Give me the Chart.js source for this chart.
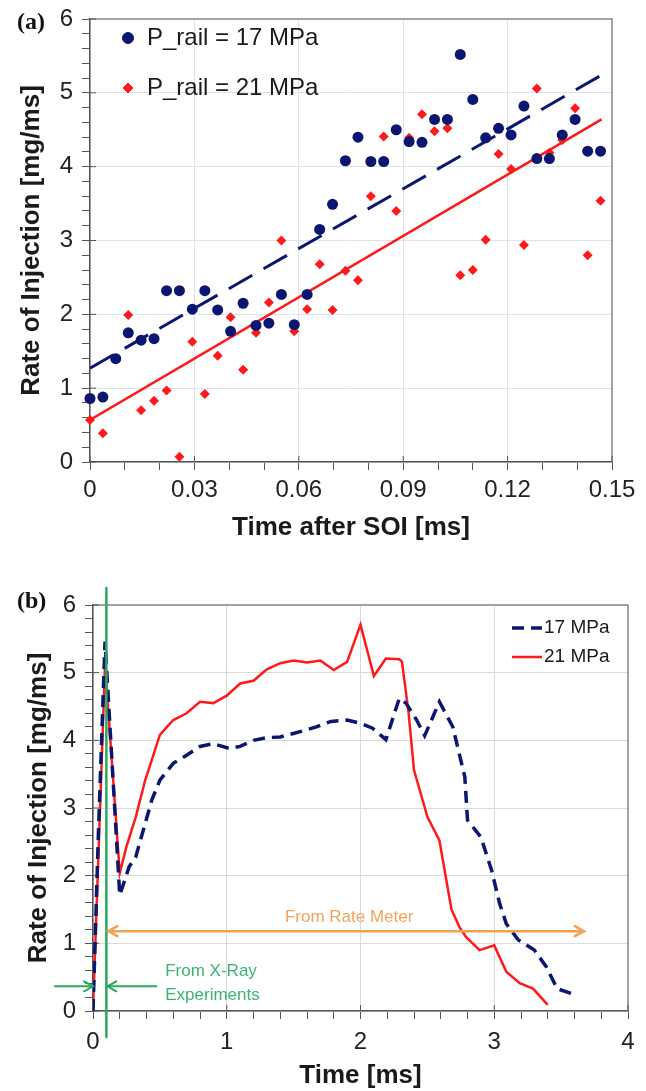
<!DOCTYPE html>
<html>
<head>
<meta charset="utf-8">
<script src="https://cdn.jsdelivr.net/npm/chart.js@4.4.0/dist/chart.umd.min.js"></script>
<style>
  html, body { margin: 0; padding: 0; background: #fff; }
  body { width: 646px; height: 1091px; position: relative; overflow: hidden; }
  .panel { position: absolute; left: 0; width: 646px; }
  #wrapA { top: 0; height: 550px; }
  #wrapB { top: 560px; height: 531px; }
</style>
</head>
<body>
<div class="panel" id="wrapA"><canvas id="chartA"></canvas></div>
<div class="panel" id="wrapB"><canvas id="chartB"></canvas></div>
<script>
// ---- (a) scatter data: rate of injection vs time after SOI ----
const soi17 = [0, 0.0037, 0.0074, 0.011, 0.0147, 0.0184, 0.022, 0.0257, 0.0294, 0.033, 0.0367, 0.0404, 0.044, 0.0477,
  0.0514, 0.055, 0.0587, 0.0624, 0.066, 0.0697, 0.0734, 0.077, 0.0807, 0.0844, 0.088, 0.0917, 0.0954, 0.099, 0.1027,
  0.1064, 0.11, 0.1137, 0.1174, 0.121, 0.1247, 0.1284, 0.132, 0.1357, 0.1394, 0.143, 0.1467];
const rate17 = [0.86, 0.88, 1.40, 1.75, 1.65, 1.67, 2.32, 2.32, 2.07, 2.32, 2.06, 1.77, 2.15, 1.85, 1.88, 2.27, 1.86,
  2.27, 3.15, 3.49, 4.08, 4.40, 4.07, 4.07, 4.50, 4.34, 4.33, 4.64, 4.64, 5.52, 4.91, 4.39, 4.52, 4.43, 4.82, 4.11,
  4.11, 4.43, 4.64, 4.21, 4.21];
const soi21 = [0, 0.0037, 0.011, 0.0147, 0.0184, 0.022, 0.0257, 0.0294, 0.033, 0.0367, 0.0404, 0.044, 0.0477, 0.0514,
  0.055, 0.0587, 0.0624, 0.066, 0.0697, 0.0734, 0.077, 0.0807, 0.0844, 0.088, 0.0917, 0.0954, 0.099, 0.1027, 0.1064,
  0.11, 0.1137, 0.1174, 0.121, 0.1247, 0.1284, 0.132, 0.1357, 0.1394, 0.143, 0.1467];
const rate21 = [0.57, 0.39, 1.99, 0.70, 0.83, 0.97, 0.07, 1.63, 0.92, 1.44, 1.96, 1.25, 1.75, 2.16, 3.00, 1.77, 2.07,
  2.68, 2.06, 2.59, 2.46, 3.60, 4.41, 3.40, 4.39, 4.71, 4.48, 4.52, 2.53, 2.60, 3.01, 4.17, 3.97, 2.94, 5.06, 4.19,
  4.36, 4.79, 2.80, 3.54];
// linear fits (end points)
const fitX = [0, 0.147];
const fit17 = [1.27, 5.24];
const fit21 = [0.57, 4.64];

// ---- (b) rate curves vs time ----
const time17 = [0, 0.04, 0.09, 0.2, 0.27, 0.32, 0.39, 0.44, 0.5, 0.6, 0.7, 0.8, 0.9, 1.02, 1.1, 1.2, 1.3, 1.4, 1.57,
  1.67, 1.78, 1.9, 2.0, 2.09, 2.19, 2.29, 2.34, 2.42, 2.48, 2.59, 2.69, 2.78, 2.8, 2.9, 2.98, 3.04, 3.09, 3.18, 3.3,
  3.39, 3.47, 3.62];
const curve17 = [0, 2.6, 5.46, 1.71, 2.13, 2.28, 2.77, 3.12, 3.41, 3.66, 3.78, 3.91, 3.95, 3.88, 3.91, 4.0, 4.04, 4.05,
  4.14, 4.2, 4.28, 4.3, 4.25, 4.18, 4.01, 4.62, 4.55, 4.3, 4.07, 4.57, 4.2, 3.46, 2.82, 2.57, 2.08, 1.59, 1.29, 1.05,
  0.9, 0.65, 0.33, 0.23];
const time21 = [0, 0.09, 0.2, 0.25, 0.32, 0.39, 0.5, 0.6, 0.7, 0.8, 0.9, 1.0, 1.1, 1.2, 1.3, 1.4, 1.5, 1.6, 1.7, 1.8,
  1.9, 2.0, 2.1, 2.19, 2.29, 2.31, 2.36, 2.4, 2.5, 2.59, 2.68, 2.74, 2.79, 2.89, 3.0, 3.09, 3.19, 3.29, 3.4];
const curve21 = [0, 5.12, 2.04, 2.43, 2.87, 3.41, 4.08, 4.3, 4.4, 4.57, 4.55, 4.66, 4.84, 4.88, 5.05, 5.14, 5.18, 5.15,
  5.18, 5.04, 5.16, 5.71, 4.95, 5.21, 5.2, 5.16, 4.4, 3.56, 2.87, 2.52, 1.5, 1.24, 1.09, 0.9, 0.97, 0.58, 0.41, 0.33,
  0.09];

const FONT = "'Liberation Sans', Arial, sans-serif";
const NAVY = '#0b1670';
const RED = '#ff1a1a';
const GREEN = '#2aa95e';
const ORANGE = '#f3a055';

const toPoints = (xs, ys) => xs.map((x, i) => ({ x: x, y: ys[i] }));
const isMajor = (v, step) => Math.abs(v / step - Math.round(v / step)) < 1e-6;

// force the axis boxes to a fixed size so the plot area lands where we want it
function fixWidth(w) {
    return function (scale) { scale.width = w; scale.paddingTop = 0; scale.paddingBottom = 0; };
}
function fixHeight(h) {
    return function (scale) { scale.height = h; scale.paddingLeft = 0; scale.paddingRight = 0; };
}

function makeAxis(opts) {
    return {
        type: 'linear',
        min: opts.min,
        max: opts.max,
        afterFit: opts.fit,
        ticks: {
            stepSize: opts.minor,
            autoSkip: false,
            maxRotation: 0,
            maxTicksLimit: 200,
            padding: opts.tickPad,
            color: '#222',
            font: { family: FONT, size: 24 },
            callback: v => isMajor(v, opts.major) ? String(+v.toFixed(2)) : ''
        },
        grid: {
            color: ctx => (ctx.tick && isMajor(ctx.tick.value, opts.major)) ? opts.gridColor : 'rgba(0,0,0,0)',
            tickColor: '#555',
            tickLength: 8,
            lineWidth: 1
        },
        border: { color: '#555', width: 1.5 },
        title: {
            display: true,
            text: opts.title,
            color: '#1a1a1a',
            font: { family: FONT, size: 26, weight: 'bold' },
            padding: opts.titlePad
        }
    };
}

// box on top/right, major ticks crossing the axis, and the panel letter
const framePlugin = {
    id: 'frame',
    beforeDatasetsDraw(chart, args, o) {
        const a = chart.chartArea;
        const ctx = chart.ctx;
        ctx.save();
        ctx.strokeStyle = '#8a8a8a';
        ctx.lineWidth = 1.5;
        ctx.beginPath();
        ctx.moveTo(a.left, a.top);
        ctx.lineTo(a.right, a.top);
        ctx.lineTo(a.right, a.bottom);
        ctx.stroke();
        // inner half of the major ticks
        ctx.strokeStyle = '#555';
        ctx.lineWidth = 1;
        chart.scales.x.ticks.forEach(t => {
            if (!isMajor(t.value, o.xMajor)) return;
            const px = chart.scales.x.getPixelForValue(t.value);
            ctx.beginPath(); ctx.moveTo(px, a.bottom); ctx.lineTo(px, a.bottom - 6); ctx.stroke();
        });
        chart.scales.y.ticks.forEach(t => {
            if (!isMajor(t.value, 1)) return;
            const py = chart.scales.y.getPixelForValue(t.value);
            ctx.beginPath(); ctx.moveTo(a.left, py); ctx.lineTo(a.left + 6, py); ctx.stroke();
        });
        ctx.restore();
    },
    afterDraw(chart, args, o) {
        const ctx = chart.ctx;
        ctx.save();
        ctx.fillStyle = '#111';
        ctx.font = "bold 24px 'Liberation Serif', 'Times New Roman', serif";
        ctx.textBaseline = 'middle';
        ctx.fillText(o.letter, 17, o.letterY);
        ctx.restore();
    }
};

// legend drawn inside the plot area
const insideLegend = {
    id: 'insideLegend',
    afterDraw(chart, args, o) {
        const a = chart.chartArea;
        const ctx = chart.ctx;
        const x0 = o.fromRight ? a.right - o.x : a.left + o.x;
        let row = 0;
        ctx.save();
        ctx.font = o.size + 'px ' + FONT;
        ctx.textBaseline = 'middle';
        chart.data.datasets.forEach(ds => {
            if (ds.inLegend === false) return;
            const y = a.top + o.y + row * o.rowGap;
            ctx.fillStyle = ds.backgroundColor;
            ctx.strokeStyle = ds.borderColor;
            if (o.sample === 'point') {
                Chart.helpers.drawPoint(ctx, { pointStyle: ds.pointStyle, radius: ds.pointRadius, rotation: 0, borderWidth: 1 }, x0, y);
            } else {
                ctx.lineWidth = ds.borderWidth;
                ctx.setLineDash(ds.borderDash || []);
                ctx.beginPath(); ctx.moveTo(x0, y); ctx.lineTo(x0 + o.sampleWidth, y); ctx.stroke();
                ctx.setLineDash([]);
            }
            ctx.fillStyle = '#1a1a1a';
            ctx.fillText(ds.label, x0 + o.textOffset, y);
            row++;
        });
        ctx.restore();
    }
};

function arrowHead(ctx, x, y, dir) {
    ctx.beginPath();
    ctx.moveTo(x - dir * 9, y - 5);
    ctx.lineTo(x, y);
    ctx.lineTo(x - dir * 9, y + 5);
    ctx.stroke();
}

// the x-ray / rate meter marks on panel (b)
const sourceMarks = {
    id: 'sourceMarks',
    afterDatasetsDraw(chart) {
        const xs = chart.scales.x, ys = chart.scales.y, a = chart.chartArea;
        const ctx = chart.ctx;
        const xRay = xs.getPixelForValue(0.1);
        const x0 = xs.getPixelForValue(0);
        ctx.save();
        ctx.lineCap = 'round';
        // x-ray window edge
        ctx.strokeStyle = GREEN;
        ctx.lineWidth = 2.5;
        ctx.beginPath(); ctx.moveTo(xRay, a.top - 17); ctx.lineTo(xRay, a.bottom + 26); ctx.stroke();
        // rate meter range
        const yMeter = ys.getPixelForValue(1.18);
        const xEnd = xs.getPixelForValue(3.67);
        ctx.strokeStyle = ORANGE;
        ctx.lineWidth = 2.5;
        ctx.beginPath(); ctx.moveTo(xRay + 2, yMeter); ctx.lineTo(xEnd, yMeter); ctx.stroke();
        arrowHead(ctx, xRay + 2, yMeter, -1);
        arrowHead(ctx, xEnd, yMeter, 1);
        // x-ray range arrows
        const yRay = ys.getPixelForValue(0.365);
        ctx.strokeStyle = GREEN;
        ctx.lineWidth = 2;
        ctx.beginPath(); ctx.moveTo(x0 - 38, yRay); ctx.lineTo(x0, yRay); ctx.stroke();
        arrowHead(ctx, x0, yRay, 1);
        ctx.beginPath(); ctx.moveTo(xRay + 50, yRay); ctx.lineTo(xRay + 1, yRay); ctx.stroke();
        arrowHead(ctx, xRay + 1, yRay, -1);
        // labels
        ctx.font = '17px ' + FONT;
        ctx.textBaseline = 'middle';
        ctx.fillStyle = '#f2a45e';
        ctx.fillText('From Rate Meter', xs.getPixelForValue(1.435), ys.getPixelForValue(1.39));
        ctx.fillStyle = '#3cb371';
        ctx.fillText('From X-Ray', xs.getPixelForValue(0.54), ys.getPixelForValue(0.58));
        ctx.fillText('Experiments', xs.getPixelForValue(0.54), ys.getPixelForValue(0.23));
        ctx.restore();
    }
};

// === panel (a) ===
new Chart(document.getElementById('chartA'), {
    type: 'scatter',
    data: {
        datasets: [
            { label: 'P_rail = 17 MPa', data: toPoints(soi17, rate17), pointStyle: 'circle', pointRadius: 5.5,
              backgroundColor: NAVY, borderColor: NAVY, borderWidth: 0, clip: false },
            { label: 'P_rail = 21 MPa', data: toPoints(soi21, rate21), pointStyle: 'rectRot', pointRadius: 5,
              backgroundColor: RED, borderColor: RED, borderWidth: 0, clip: false },
            { label: 'fit 17', inLegend: false, data: toPoints(fitX, fit17), showLine: true, pointRadius: 0,
              borderColor: NAVY, backgroundColor: NAVY, borderWidth: 3, borderDash: [27, 13] },
            { label: 'fit 21', inLegend: false, data: toPoints(fitX, fit21), showLine: true, pointRadius: 0,
              borderColor: RED, backgroundColor: RED, borderWidth: 2.5 }
        ]
    },
    options: {
        responsive: true,
        maintainAspectRatio: false,
        animation: false,
        events: [],
        layout: { padding: { top: 19, right: 34, left: 0, bottom: 0 } },
        scales: {
            x: makeAxis({ min: 0, max: 0.15, minor: 0.01, major: 0.03, fit: fixHeight(88), tickPad: 6,
                          gridColor: '#dde2ef', title: 'Time after SOI [ms]', titlePad: { top: 0, bottom: 7 } }),
            y: makeAxis({ min: 0, max: 6, minor: 0.2, major: 1, fit: fixWidth(90), tickPad: 9,
                          gridColor: '#dde2ef', title: 'Rate of Injection [mg/ms]', titlePad: { top: 16, bottom: 0 } })
        },
        plugins: {
            legend: { display: false },
            tooltip: { enabled: false },
            frame: { letter: '(a)', letterY: 23, xMajor: 0.03 },
            insideLegend: { sample: 'point', x: 38, y: 19, rowGap: 50, textOffset: 19, size: 24 }
        }
    },
    plugins: [framePlugin, insideLegend]
});

// === panel (b) ===
new Chart(document.getElementById('chartB'), {
    type: 'line',
    data: {
        datasets: [
            { label: '17 MPa', data: toPoints(time17, curve17), borderColor: NAVY, backgroundColor: NAVY,
              borderWidth: 3.5, borderDash: [12, 7], pointRadius: 0, tension: 0 },
            { label: '21 MPa', data: toPoints(time21, curve21), borderColor: RED, backgroundColor: RED,
              borderWidth: 2.5, pointRadius: 0, tension: 0 }
        ]
    },
    options: {
        responsive: true,
        maintainAspectRatio: false,
        animation: false,
        events: [],
        layout: { padding: { top: 45, right: 18, left: 0, bottom: 0 } },
        scales: {
            x: makeAxis({ min: 0, max: 4, minor: 0.2, major: 1, fit: fixHeight(80), tickPad: 9,
                          gridColor: '#d9d9d9', title: 'Time [ms]', titlePad: { top: 0, bottom: 0 } }),
            y: makeAxis({ min: 0, max: 6, minor: 0.2, major: 1, fit: fixWidth(93), tickPad: 9,
                          gridColor: '#d9d9d9', title: 'Rate of Injection [mg/ms]', titlePad: { top: 23, bottom: 0 } })
        },
        plugins: {
            legend: { display: false },
            tooltip: { enabled: false },
            frame: { letter: '(b)', letterY: 42, xMajor: 1 },
            insideLegend: { sample: 'line', fromRight: true, x: 116, y: 23, rowGap: 29, sampleWidth: 30,
                            textOffset: 32, size: 19 }
        }
    },
    plugins: [framePlugin, insideLegend, sourceMarks]
});
</script>
</body>
</html>
